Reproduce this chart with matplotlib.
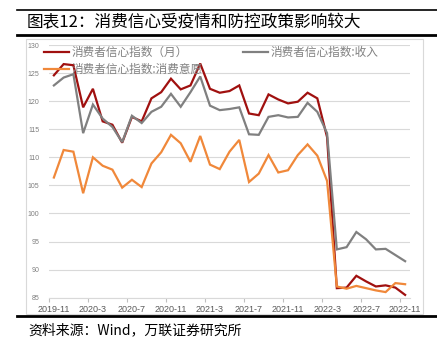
import matplotlib
matplotlib.use("Agg")
import matplotlib.pyplot as plt
import numpy as np
import pandas as pd
from matplotlib.lines import Line2D
from matplotlib.patches import Rectangle

plt.rcParams['font.family'] = ['Noto Sans CJK SC', 'DejaVu Sans']

# months 2019-11 .. 2022-11
months = [f"{p.year}-{p.month}" for p in pd.period_range("2019-11", "2022-11", freq="M")]

# 消费者信心指数（月）
confidence = [124.6, 126.6, 126.4, 118.9, 122.2, 116.4, 115.8, 112.6, 117.2, 116.4,
              120.5, 121.6, 124.0, 122.1, 122.8, 126.7, 122.2, 121.5, 121.8, 122.8,
              117.8, 117.5, 121.2, 120.3, 119.6, 119.9, 121.5, 120.5, 113.6,
              86.7, 86.8, 88.9, 87.9, 87.0, 87.2, 86.8, 85.5]
# 消费者信心指数:收入
income = [122.8, 124.2, 124.8, 114.3, 119.4, 116.9, 115.4, 112.7, 117.4, 116.1,
          118.1, 119.0, 121.3, 119.0, 121.6, 124.4, 119.2, 118.4, 118.6, 118.9,
          114.1, 114.0, 117.2, 117.5, 117.1, 117.2, 119.7, 118.1, 114.3,
          93.6, 94.0, 96.7, 95.4, 93.6, 93.7, 92.6, 91.5]
# 消费者信心指数:消费意愿
willingness = [106.4, 111.3, 111.0, 103.6, 110.0, 108.5, 107.8, 104.6, 106.0, 104.7,
               108.9, 110.9, 114.0, 112.5, 109.2, 113.8, 108.7, 107.9, 111.0, 113.1,
               105.6, 107.1, 110.4, 107.3, 107.7, 110.4, 112.3, 110.3, 105.8,
               87.0, 86.6, 87.1, 86.7, 86.3, 86.0, 87.6, 87.4]

labels = ["消费者信心指数（月）", "消费者信心指数:收入", "消费者信心指数:消费意愿"]
colors = ["#a0100f", "#808080", "#f0883a"]

W, H = 437, 346
fig = plt.figure(figsize=(W / 100, H / 100), dpi=100)

# frame lines and border
fig.add_artist(Line2D([17 / W, 1], [1 - 10 / H] * 2, color="black", lw=1.2))
fig.add_artist(Line2D([17 / W, 1], [1 - 34.7 / H] * 2, color="black", lw=2.0))
fig.add_artist(Line2D([17 / W, 1], [1 - 316 / H] * 2, color="black", lw=2.0))
fig.add_artist(Rectangle((25.7 / W, 1 - 314 / H), (422.7 - 25.7) / W, (314 - 39) / H,
                         fill=False, edgecolor="#d9d9d9", lw=0.8))

fig.text(27 / W, 1 - 23 / H, "图表12：消费信心受疫情和防控政策影响较大",
         fontsize=12, va="center", ha="left", color="black")
fig.text(28 / W, 1 - 330 / H, "资料来源：Wind，万联证券研究所",
         fontsize=10, va="center", ha="left", color="black", style="italic")

ax = fig.add_axes([49 / W, 1 - 297.7 / H, (410 - 49) / W, (297.7 - 45) / H])
x = np.arange(len(months))
lines = []
for ys, c, lab in zip([confidence, income, willingness], colors, labels):
    ln, = ax.plot(x, ys, color=c, lw=1.6, label=lab, solid_joinstyle="miter")
    lines.append(ln)

ax.set_xlim(-0.5, len(months) - 0.5)
ax.set_ylim(85, 130)
ax.set_yticks(range(85, 131, 5))
ax.yaxis.grid(True, color="#d9d9d9", lw=0.8)
ax.set_axisbelow(True)
for s in ["left", "right", "top"]:
    ax.spines[s].set_visible(False)
ax.spines["bottom"].set_color("#d9d9d9")
ax.spines["bottom"].set_linewidth(0.8)

ax.set_xticks(x[::4])
ax.set_xticklabels(months[::4], fontsize=6.5, color="#595959", family="Liberation Sans")
ax.set_xticks(np.arange(-0.5, len(months) - 1, 4), minor=True)
ax.tick_params(axis="x", which="major", length=0, pad=5)
ax.tick_params(axis="x", which="minor", length=3, color="#bfbfbf", width=0.8)
ax.tick_params(axis="y", length=0, pad=7, labelsize=5, labelcolor="#7f7f7f")
for t in ax.get_yticklabels():
    t.set_fontfamily("Liberation Sans")

leg_kw = dict(frameon=False, fontsize=8.4, handlelength=2.1, handletextpad=0.25,
              borderpad=0, borderaxespad=0, labelspacing=0.35, labelcolor="#808080",
              bbox_transform=fig.transFigure, loc="upper left")
leg1 = ax.legend([lines[0], lines[2]], [labels[0], labels[2]],
                 bbox_to_anchor=(44 / W, 1 - 46 / H), **leg_kw)
ax.add_artist(leg1)
ax.legend([lines[1]], [labels[1]], bbox_to_anchor=(243 / W, 1 - 46 / H), **leg_kw)

fig.savefig("out.png", dpi=100)
